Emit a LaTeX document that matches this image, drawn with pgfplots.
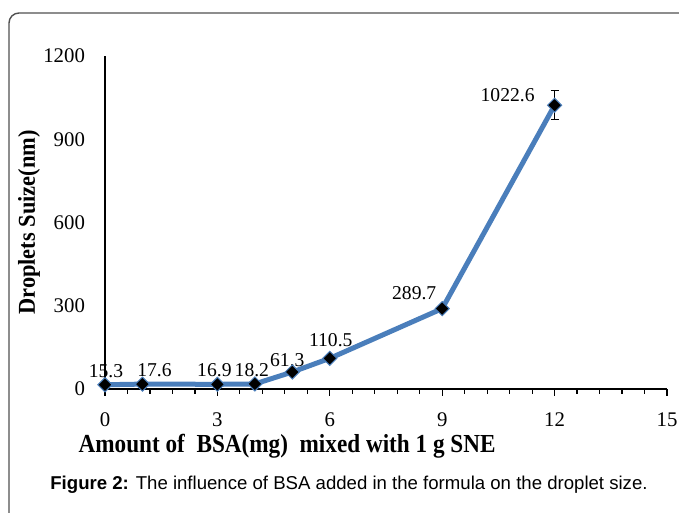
\documentclass[border=0pt]{standalone}
\usepackage{pgfplots}
\pgfplotsset{compat=1.18}
\usepackage{fontspec}
\setmainfont{Liberation Serif}
\newfontfamily\capfont{Liberation Sans}
\definecolor{lineblue}{HTML}{4A7EBB}
\definecolor{framegray}{HTML}{505050}
\begin{document}
\begin{tikzpicture}
\useasboundingbox (0,0) rectangle (339.5pt,256.5pt);
\begin{scope}
\clip (0,0) rectangle (339.5pt,256.5pt);
\draw[framegray, line width=0.7pt, rounded corners=5pt] (4.5pt,-60pt) -- (4.5pt,250pt) -- (600pt,250pt);
\end{scope}
\begin{axis}[
  at={(52.5pt,62pt)}, anchor=south west,
  scale only axis, width=281pt, height=166.5pt,
  xmin=0, xmax=15, ymin=0, ymax=1200,
  axis lines*=left,
  axis line style={line width=0.6pt},
  xtick={0,3,...,15}, minor x tick num=4,
  ytick={0,300,...,1200},
  tick align=outside,
  major tick length=3.5pt, minor tick length=2.5pt,
  xtick style={line width=0.6pt, black},
  ytick style={draw=none},
  /pgf/number format/assume math mode=true,
  /pgf/number format/1000 sep={},
  tick label style={font=\fontsize{10.4}{12}\selectfont},
  xticklabel style={yshift=-5pt},
  yticklabel style={xshift=-3pt},
  xlabel={\scalebox{1}[1.12]{Amount of\ \ BSA(mg)\ \ mixed with 1 g SNE}},
  ylabel={\scalebox{1}[1.08]{Droplets Suize(nm)}},
  xlabel style={at={(axis description cs:0.324,-0.192)}, anchor=base, font=\bfseries\fontsize{11.6}{13}\selectfont},
  ylabel style={at={(axis description cs:-0.135,0.5)}, anchor=center, rotate=0, font=\bfseries\fontsize{11.2}{13}\selectfont},
  clip=false,
]
\addplot[lineblue, line width=2.5pt, mark=square*, mark size=2.5pt,
  mark options={rotate=45, fill=black, draw=lineblue, line width=0.5pt},
  error bars/.cd, y dir=both, y explicit,
  error bar style={black, line width=0.6pt},
  error mark options={rotate=90, mark size=2pt, black, line width=0.6pt}]
  coordinates {
  (0,15.3) (1,17.6) (3,16.9) (4,18.2) (5,61.3) (6,110.5) (9,289.7) (12,1022.6) +- (0,52)
  };
\begin{scope}[every node/.style={font=\fontsize{9.8}{11}\selectfont, inner sep=0pt, anchor=center}]
\node[xshift=0.5pt, yshift=7pt] at (axis cs:0,15.3) {15.3};
\node[xshift=6pt, yshift=7pt] at (axis cs:1,17.6) {17.6};
\node[xshift=-1.5pt, yshift=7pt] at (axis cs:3,16.9) {16.9};
\node[xshift=-1.5pt, yshift=7pt] at (axis cs:4,18.2) {18.2};
\node[xshift=-2.5pt, yshift=6pt] at (axis cs:5,61.3) {61.3};
\node[xshift=0.5pt, yshift=9pt] at (axis cs:6,110.5) {110.5};
\node[xshift=-14pt, yshift=7.5pt] at (axis cs:9,289.7) {289.7};
\node[xshift=-23.5pt, yshift=5pt] at (axis cs:12,1022.6) {1022.6};
\end{scope}
\end{axis}
\node[font=\capfont\fontsize{9.3}{11}\selectfont, anchor=center] at (174.5pt,14pt) {\textbf{Figure 2:} The influence of BSA added in the formula on the droplet size.};
\end{tikzpicture}
\end{document}
